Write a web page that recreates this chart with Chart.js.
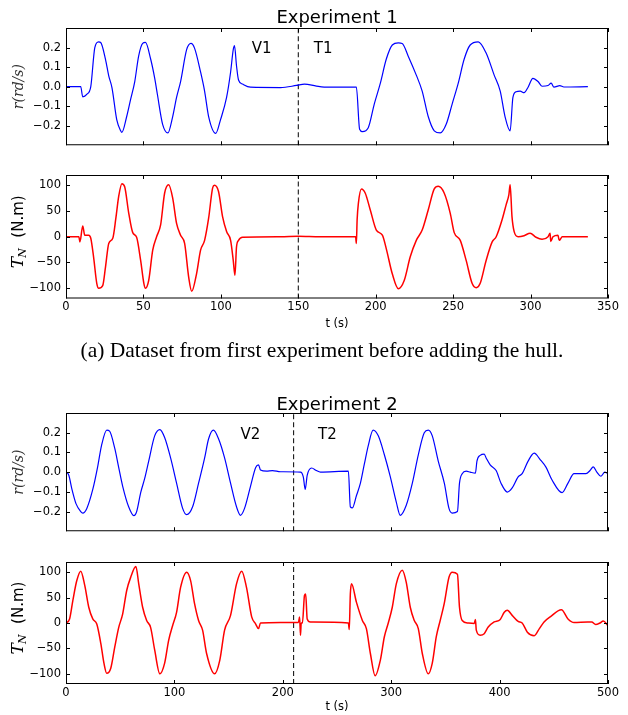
<!DOCTYPE html>
<html>
<head>
<meta charset="utf-8">
<script src="https://cdn.jsdelivr.net/npm/chart.js@4.4.0/dist/chart.umd.min.js"></script>
<style>
body { margin: 0; background: #fff; width: 628px; height: 715px; position: relative; overflow: hidden; }
canvas { position: absolute; left: 0; }
#cap { position: absolute; left: 8px; width: 628px; top: 339px; line-height: 22px; text-align: center;
       font-family: "Liberation Serif", serif; font-size: 21.5px; color: #000; white-space: nowrap; }
</style>
</head>
<body>
<canvas id="c1" width="628" height="156" style="top:0px"></canvas>
<canvas id="c2" width="628" height="180" style="top:160px"></canvas>
<div id="cap">(a) Dataset from first experiment before adding the hull.</div>
<canvas id="c3" width="628" height="162" style="top:380px"></canvas>
<canvas id="c4" width="628" height="170" style="top:545px"></canvas>
<script>
// ---- experiment 1 : yaw rate r (rd/s)
var exp1RTime = [0, 9.5, 10.8, 13.4, 16, 18.6, 21.1, 22.4, 25.5, 27.6,
    29.7, 32.8, 35.3, 36.1, 39.2, 41.8, 44.4, 46.9, 49.5, 51.3,
    54.7, 57.3, 59, 62.4, 65.8, 68.9, 71.4, 74, 77.9, 80.7,
    83, 86.9, 89.5, 92.1, 96.7, 99.8, 103.7, 106.3, 108, 108.8,
    110.1, 111.4, 114, 119.1, 138.5, 148.8, 154, 161.7, 169.4, 187,
    187.5, 189.6, 191.4, 195.2, 199.1, 203, 206.8, 210.7, 214.6, 217.1,
    221, 226.2, 230, 233.9, 237.8, 241.7, 245.5, 249.4, 253.3, 257.1,
    261, 266.2, 271.3, 276.5, 280.4, 283.5, 286.8, 288.6, 290.7, 293.3,
    295.8, 298.4, 301.5, 304.8, 307.4, 311.3, 313.3, 315.1, 318.9, 321.5,
    337];
var exp1R = [0, 0, -0.052, -0.04, 0, 0.2, 0.229, 0.226, 0.14, 0.055,
    -0.006, -0.17, -0.226, -0.234, -0.153, -0.063, 0.026, 0.156, 0.221, 0.226,
    0.14, 0.042, -0.039, -0.193, -0.237, -0.153, -0.055, 0.026, 0.189, 0.221,
    0.197, 0.075, -0.023, -0.153, -0.239, -0.169, -0.055, 0.075, 0.189, 0.21,
    0.107, 0.034, 0.013, -0.003, -0.005, 0.006, 0.013, 0.003, -0.003, -0.003,
    -0.003, -0.218, -0.23, -0.21, -0.088, 0.018, 0.14, 0.213, 0.224, 0.221,
    0.156, 0.059, -0.023, -0.153, -0.226, -0.237, -0.193, -0.088, 0.018, 0.14,
    0.213, 0.229, 0.172, 0.059, -0.023, -0.153, -0.226, -0.055, -0.026, -0.023,
    -0.031, -0.003, 0.042, 0.026, 0.002, 0.006, 0.018, -0.003, 0.005, -0.002,
    0];

// ---- experiment 1 : torque T_N (N.m)
var exp1TTime = [0, 8.3, 9, 10.8, 12.1, 14.7, 16, 17.8, 19.9, 21.1,
    23.7, 25.5, 27.6, 30.2, 32.2, 34, 36.1, 37.9, 40.5, 43.1,
    45.6, 48.2, 50.3, 51.3, 53.4, 56, 58.5, 61.1, 63.7, 66.3,
    68.9, 71.4, 74, 76.6, 79.2, 81.2, 84.3, 86.9, 89.5, 92.1,
    94.7, 95.9, 98.5, 101.1, 103.7, 106.3, 108, 109.1, 110.1, 111.4,
    114, 138.5, 150, 164, 187, 187.5, 188, 188.8, 190.8, 193.2,
    196.5, 200.4, 204.3, 206.8, 210.7, 214.6, 218.4, 222.3, 226.2, 230,
    233.9, 237.8, 240.4, 244.2, 248.1, 250.7, 254.6, 258.4, 262.3, 264.9,
    267.4, 271.3, 275.2, 277.8, 281.6, 284.2, 286, 286.8, 288, 289.4,
    292, 295.8, 299.7, 303.5, 307.4, 311.3, 312.6, 313, 314.5, 317.7,
    318.5, 320.5, 337];
var exp1T = [0, 0, -10, 21, 3, 3, -3, -39, -91, -100,
    -95, -59, -13, -3, 36, 78, 103, 97, 46, 8,
    -1, -46, -91, -100, -85, -26, 0, 23, 85, 101,
    75, 26, 3, -13, -78, -106, -72, -26, -7, 36,
    95, 100, 88, 39, 10, -7, -46, -75, -20, -7,
    -1, 0, 1, 0, 0, -13, 33, 65, 93, 85,
    52, 13, 3, -23, -72, -101, -85, -39, -7, 13,
    52, 93, 98, 85, 46, 8, -7, -46, -91, -99,
    -91, -46, -10, 0, 33, 62, 82, 101, 39, 10,
    0, 2, 7, -1, -5, 0, 7, -9, 0, 3,
    -7, 0, 0];

// ---- experiment 2 : yaw rate r (rd/s)
var exp2RTime = [0, 2.6, 5.5, 9.2, 13.6, 15.5, 19.2, 24.7, 29.1, 32.8,
    37.6, 40.2, 45, 48.6, 52.3, 57.8, 62.6, 65.2, 68.9, 72.6,
    76.3, 81.8, 86.6, 91, 96.5, 102, 107.6, 111.3, 116.8, 122.3,
    127.9, 131.5, 136, 140.8, 146.3, 151.8, 157.3, 161, 164.7, 170.2,
    175, 177.6, 179.4, 185, 190.5, 197.9, 216.3, 218.9, 220.7, 222.5,
    226.6, 231, 234.7, 260.5, 262.3, 264.2, 267.9, 271.6, 275.2, 278.9,
    283.3, 288.1, 293.7, 299.2, 304.7, 308.4, 313.9, 319.5, 325, 330.5,
    334.2, 337.9, 343.4, 349, 353.3, 356.3, 361.1, 363, 365.5, 369.2,
    372.9, 377.7, 379.1, 382.1, 385.8, 387.6, 391.3, 396.8, 401.3, 407.1,
    411.6, 417.1, 420.8, 426.3, 431.9, 437.4, 442.9, 448.4, 457.6, 463.1,
    468.7, 479.7, 483.4, 486.4, 489.7, 493.4, 497, 500];
var exp2R = [0, -0.016, -0.088, -0.16, -0.2, -0.208, -0.184, -0.088, 0.024, 0.136,
    0.213, 0.208, 0.12, 0.024, -0.072, -0.176, -0.221, -0.2, -0.104, -0.032,
    0.056, 0.184, 0.216, 0.176, 0.072, -0.056, -0.184, -0.216, -0.176, -0.056,
    0.072, 0.168, 0.213, 0.168, 0.072, -0.056, -0.176, -0.219, -0.184, -0.072,
    0.024, 0.037, 0.011, 0.005, 0.008, 0.002, 0, -0.024, -0.088, -0.016,
    0.021, 0.008, 0, 0.005, -0.176, -0.181, -0.12, -0.056, 0.04, 0.136,
    0.213, 0.184, 0.088, -0.024, -0.152, -0.219, -0.168, -0.056, 0.088, 0.2,
    0.213, 0.184, 0.056, -0.056, -0.184, -0.208, -0.2, -0.056, -0.008, 0.005,
    0, -0.005, 0.056, 0.085, 0.091, 0.072, 0.037, 0.008, -0.056, -0.101,
    -0.08, -0.024, -0.008, 0.056, 0.096, 0.064, 0.024, -0.04, -0.104, -0.056,
    -0.008, -0.008, 0.008, 0.027, 0, -0.021, 0, -0.008];

// ---- experiment 2 : torque T_N (N.m)
var exp2TTime = [0, 3.3, 6.3, 9.9, 13.6, 17.3, 21, 24.7, 28.4, 32.1,
    35, 37.6, 41.3, 45, 48.6, 52.3, 56, 59.7, 64.5, 67.1,
    70.7, 74.4, 78.1, 81.8, 86.6, 91, 94.7, 98.4, 102, 105.7,
    111.3, 115, 118.6, 122.3, 126, 129.7, 137.1, 141.9, 146.3, 151.8,
    157.3, 162.1, 166.5, 171.3, 175, 177.6, 179.4, 197.9, 214.4, 215.5,
    216.3, 217, 218.1, 220, 221.1, 222.5, 225.5, 260.5, 261.3, 262.3,
    263.4, 267.9, 273.4, 277.1, 280.8, 285.2, 290, 293.7, 297.3, 301,
    304.7, 310.2, 313.9, 317.6, 321.3, 325, 328.7, 334.2, 337.9, 341.6,
    345.2, 348.9, 353.3, 356.3, 361.1, 363, 365.5, 371, 376.6, 377.7,
    378.5, 382.1, 385.8, 389.5, 395, 400.6, 404.3, 407.1, 411.6, 417.1,
    420.8, 425.6, 431.9, 436.7, 441, 446.7, 457, 463.1, 468.7, 481.3,
    485, 488.6, 492.6, 495.6, 500];
var exp2T = [0, 8, 44, 83, 102, 74, 31, 8, -2, -40,
    -79, -99, -89, -47, -9, 18, 64, 90, 111, 77,
    31, 5, -9, -53, -100, -79, -34, -5, 21, 70,
    100, 83, 38, 5, -14, -60, -100, -73, -14, 15,
    77, 102, 70, 12, -2, -11, 0, 1, 1, 12,
    -24, 0, 0, 54, 57, 8, 2, 0, -13, 57,
    77, 41, 5, -11, -60, -104, -73, -27, 0, 31,
    77, 104, 80, 31, 5, -11, -60, -100, -79, -27,
    5, 38, 90, 100, 96, 31, 5, 0, -1, 7,
    -14, -24, -21, -8, 2, 7, 21, 25, 15, 3,
    0, -18, -25, -11, 2, 12, 26, 8, 1, 2,
    2, -3, 0, 4, -5];

// ticks
var exp1XTicks = [0, 50, 100, 150, 200, 250, 300, 350];
var exp2XTicks = [0, 100, 200, 300, 400, 500];
var rTicks = [-0.2, -0.1, 0, 0.1, 0.2];
var tTicks = [-100, -50, 0, 50, 100];

// split between validation / training parts
var exp1Split = 150;
var exp2Split = 210;
var exp1Labels = ['V1', 'T1'];
var exp1LabelX = [120, 160];
var exp2Labels = ['V2', 'T2'];
var exp2LabelX = [161, 232.5];

Chart.defaults.font.family = '"DejaVu Sans", sans-serif';
Chart.defaults.color = '#000';

function minus(s) { return String(s).replace('-', '\u2212'); }

var decor = {
    id: 'decor',
    afterDraw: function(chart, args, o) {
        var ctx = chart.ctx, a = chart.chartArea, x = chart.scales.x, y = chart.scales.y;
        ctx.save();
        ctx.strokeStyle = '#000';
        ctx.lineWidth = 1;
        // inner ticks all round
        ctx.beginPath();
        x.ticks.forEach(function(t) {
            var px = Math.round(x.getPixelForValue(t.value)) + 0.5;
            ctx.moveTo(px, a.bottom); ctx.lineTo(px, a.bottom - 4);
            ctx.moveTo(px, a.top); ctx.lineTo(px, a.top + 4);
        });
        y.ticks.forEach(function(t) {
            var py = Math.round(y.getPixelForValue(t.value)) + 0.5;
            ctx.moveTo(a.left, py); ctx.lineTo(a.left + 4, py);
            ctx.moveTo(a.right, py); ctx.lineTo(a.right - 4, py);
        });
        ctx.stroke();
        ctx.strokeRect(a.left + 0.5, a.top + 0.5, a.right - a.left - 1, a.bottom - a.top - 1);

        // suptitle
        if (o.title) {
            ctx.fillStyle = '#000';
            ctx.font = '18px "DejaVu Sans"';
            ctx.textAlign = 'center';
            ctx.textBaseline = 'alphabetic';
            ctx.fillText(o.title, (a.left + a.right) / 2, o.titleY);
        }
        // V / T region labels
        if (o.labels) {
            ctx.fillStyle = '#000';
            ctx.font = '15px "DejaVu Sans"';
            ctx.textAlign = 'left';
            ctx.textBaseline = 'alphabetic';
            o.labels.forEach(function(l, i) {
                ctx.fillText(l, x.getPixelForValue(o.labelX[i]), y.getPixelForValue(o.labelY));
            });
        }
        // y axis title
        var cy = (a.top + a.bottom) / 2;
        ctx.save();
        if (o.ytitle === 'r') {
            ctx.translate(22.5, cy);
            ctx.rotate(-Math.PI / 2);
            ctx.fillStyle = '#333';
            ctx.font = 'italic 14px "DejaVu Serif"';
            ctx.textAlign = 'center';
            ctx.textBaseline = 'alphabetic';
            ctx.fillText('r(rd/s)', 0, 0);
        } else {
            ctx.translate(22.7, cy - 5);
            ctx.rotate(-Math.PI / 2);
            ctx.fillStyle = '#000';
            ctx.textAlign = 'left';
            ctx.textBaseline = 'alphabetic';
            var fT = 'italic 17px "DejaVu Serif"', fN = 'italic 11px "DejaVu Serif"', fU = '15px "DejaVu Sans"';
            ctx.font = fT; var wT = ctx.measureText('T').width;
            ctx.font = fN; var wN = ctx.measureText('N').width;
            ctx.font = fU; var wU = ctx.measureText('  (N.m)').width;
            var sx = -(wT + wN + wU) / 2;
            ctx.font = fT; ctx.fillText('T', sx, 0);
            ctx.font = fN; ctx.fillText('N', sx + wT - 1, 3.5);
            ctx.font = fU; ctx.fillText('  (N.m)', sx + wT + wN, 0);
        }
        ctx.restore();
        ctx.restore();
    }
};

function panel(id, c) {
    var pts = c.t.map(function(t, i) { return { x: t, y: c.v[i] }; });
    return new Chart(document.getElementById(id), {
        type: 'line',
        data: {
            datasets: [
                { data: pts, borderColor: c.color, borderWidth: c.lw, pointRadius: 0,
                  cubicInterpolationMode: 'monotone' },
                { data: [{ x: c.split, y: c.yMin }, { x: c.split, y: c.yMax }],
                  borderColor: '#000', borderWidth: 1, borderDash: [5, 3], pointRadius: 0 }
            ]
        },
        options: {
            responsive: false, animation: false, devicePixelRatio: 1,
            layout: { padding: { top: c.padTop, right: 20, left: 0, bottom: 0 } },
            plugins: {
                legend: { display: false }, tooltip: { enabled: false },
                decor: { title: c.title, titleY: c.titleY, labels: c.labels, labelX: c.labelX,
                         labelY: 0.17, ytitle: c.ytitle }
            },
            scales: {
                x: {
                    type: 'linear', min: c.xMin, max: c.xMax,
                    afterBuildTicks: function(s) { s.ticks = c.xTicks.map(function(v) { return { value: v }; }); },
                    afterFit: function(s) { s.height = c.xh; },
                    grid: { display: false, drawTicks: false }, border: { display: false },
                    ticks: { display: c.showX, autoSkip: false, maxRotation: 0, padding: c.xPad,
                             font: { size: 11.5, lineHeight: 1 },
                             callback: function(v) { return minus(v); } },
                    title: { display: c.showX, text: 't (s)', font: { size: 11.5, lineHeight: 1 },
                             padding: { top: 0, bottom: c.titlePad } }
                },
                y: {
                    min: c.yMin, max: c.yMax,
                    afterBuildTicks: function(s) { s.ticks = c.yTicks.map(function(v) { return { value: v }; }); },
                    afterFit: function(s) { s.width = 66; },
                    grid: { display: false, drawTicks: false }, border: { display: false },
                    ticks: { padding: 5, font: { size: 11.5, lineHeight: 1 },
                             callback: function(v) { return minus(c.ytitle === 'r' ? v.toFixed(1) : v); } }
                }
            }
        },
        plugins: [decor]
    });
}

panel('c1', { t: exp1RTime, v: exp1R, color: '#0000ff', lw: 1.2, split: exp1Split,
    xMin: 0, xMax: 350, xTicks: exp1XTicks, yMin: -0.3, yMax: 0.3, yTicks: rTicks,
    padTop: 28, xh: 6, showX: false, xPad: 0, titlePad: 0,
    title: 'Experiment 1', titleY: 23, labels: exp1Labels, labelX: exp1LabelX, ytitle: 'r' });
panel('c2', { t: exp1TTime, v: exp1T, color: '#ff0000', lw: 1.5, split: exp1Split,
    xMin: 0, xMax: 350, xTicks: exp1XTicks, yMin: -120, yMax: 120, yTicks: tTicks,
    padTop: 15, xh: 41.5, showX: true, xPad: 3, titlePad: 10.7, ytitle: 'T' });
panel('c3', { t: exp2RTime, v: exp2R, color: '#0000ff', lw: 1.2, split: exp2Split,
    xMin: 0, xMax: 500, xTicks: exp2XTicks, yMin: -0.3, yMax: 0.3, yTicks: rTicks,
    padTop: 33, xh: 6, showX: false, xPad: 0, titlePad: 0,
    title: 'Experiment 2', titleY: 30, labels: exp2Labels, labelX: exp2LabelX, ytitle: 'r' });
panel('c4', { t: exp2TTime, v: exp2T, color: '#ff0000', lw: 1.5, split: exp2Split,
    xMin: 0, xMax: 500, xTicks: exp2XTicks, yMin: -120, yMax: 120, yTicks: tTicks,
    padTop: 17, xh: 31, showX: true, xPad: 3.5, titlePad: 2, ytitle: 'T' });
</script>
</body>
</html>
